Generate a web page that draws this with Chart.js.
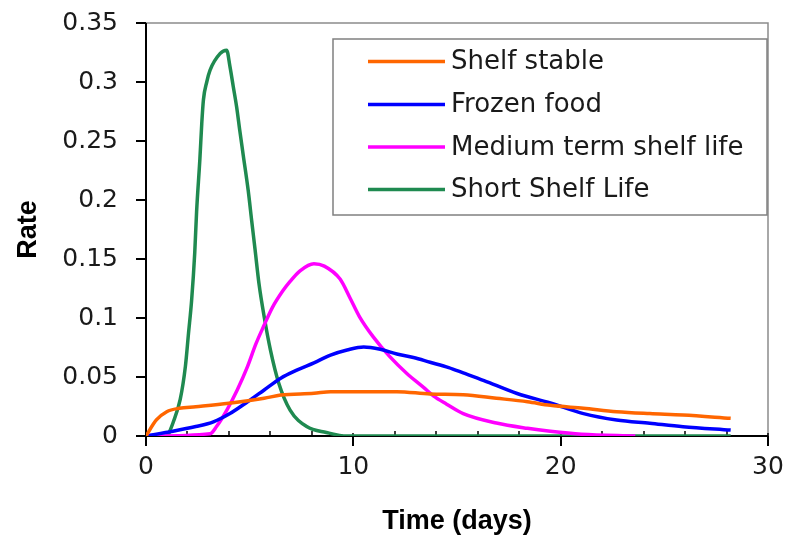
<!DOCTYPE html>
<html>
<head>
<meta charset="utf-8">
<script src="https://cdn.jsdelivr.net/npm/chart.js@4/dist/chart.umd.min.js"></script>
<style>
html,body{margin:0;padding:0;background:#fff;}
#wrap{width:790px;height:539px;position:relative;}
</style>
</head>
<body>
<div id="wrap"><canvas id="c" width="790" height="539"></canvas></div>
<script>
// ---- data ----
const seriesNames = ["Shelf stable", "Frozen food", "Medium term shelf life", "Short Shelf Life"];
const seriesColors = ["#FF6600", "#0000FF", "#FF00FF", "#1F8A50"];

const shelfStableDays = [0, 0.5, 1.0, 1.6, 2.4, 4.0, 5.7, 6.5, 8.1, 8.9, 12.1, 13.7, 15.3, 16.9, 18.4, 19.5, 21.1, 22.7, 24.3, 25.9, 28.2];
const shelfStableRate = [0, 0.0136, 0.0206, 0.0235, 0.0248, 0.0277, 0.032, 0.0347, 0.0362, 0.0376, 0.0376, 0.0356, 0.035, 0.032, 0.029, 0.026, 0.0235, 0.0206, 0.019, 0.0178, 0.015];

const frozenDays = [0, 1.3, 2.4, 3.25, 4.05, 4.9, 5.7, 6.5, 7.3, 8.1, 8.9, 9.7, 10.5, 11.3, 12.1, 12.9, 13.7, 14.6, 15.3, 16.3, 17.9, 19.5, 21.1, 22.7, 24.3, 25.9, 28.2];
const frozenRate = [0, 0.004, 0.008, 0.012, 0.019, 0.029, 0.039, 0.049, 0.056, 0.062, 0.0686, 0.0729, 0.0755, 0.0735, 0.0695, 0.0665, 0.0625, 0.058, 0.0535, 0.047, 0.036, 0.028, 0.019, 0.0136, 0.0108, 0.0079, 0.005];

const mediumDays = [0, 3.1, 3.4, 3.9, 4.4, 4.9, 5.3, 5.7, 6.1, 6.6, 6.95, 7.43, 8.1, 8.6, 9.36, 9.84, 10.3, 10.96, 11.77, 12.58, 13.4, 13.86, 14.5, 15.3, 16.9, 18.4, 19.5, 21.0, 23.6];
const mediumRate = [0, 0.002, 0.008, 0.022, 0.039, 0.059, 0.078, 0.094, 0.109, 0.123, 0.131, 0.14, 0.146, 0.144, 0.133, 0.117, 0.101, 0.084, 0.067, 0.053, 0.041, 0.034, 0.027, 0.019, 0.011, 0.0065, 0.004, 0.0015, 0];

const shortDays = [1.05, 1.3, 1.65, 1.9, 2.05, 2.2, 2.35, 2.44, 2.6, 2.69, 2.77, 2.93, 3.09, 3.57, 3.89, 4.05, 4.21, 4.37, 4.53, 4.69, 4.93, 5.1, 5.26, 5.45, 5.7, 6.0, 6.4, 6.95, 7.75, 8.7, 9.7, 28.2];
const shortRate = [0, 0.011, 0.031, 0.059, 0.087, 0.115, 0.155, 0.19, 0.235, 0.265, 0.285, 0.3, 0.31, 0.324, 0.327, 0.313, 0.296, 0.279, 0.258, 0.238, 0.208, 0.182, 0.158, 0.129, 0.101, 0.073, 0.045, 0.022, 0.008, 0.003, 0, 0];

const xTickValues = [0, 10, 20, 30];
const xMinorTickValues = [2, 4, 6, 8, 12, 14, 16, 18, 22, 24, 26, 28];
const yTickValues = [0, 0.05, 0.1, 0.15, 0.2, 0.25, 0.3, 0.35];
const yTickLabels = ["0", "0.05", "0.1", "0.15", "0.2", "0.25", "0.3", "0.35"];
const xTitle = "Time (days)";
const yTitle = "Rate";

// ---- build ----
function pts(xs, ys) { return xs.map((x, i) => ({x: x, y: ys[i]})); }
const allDays = [shelfStableDays, frozenDays, mediumDays, shortDays];
const allRates = [shelfStableRate, frozenRate, mediumRate, shortRate];
const datasets = seriesNames.map((n, i) => ({
  label: n,
  data: pts(allDays[i], allRates[i]),
  borderColor: seriesColors[i],
  backgroundColor: seriesColors[i],
  borderWidth: 3.5,
  pointRadius: 0,
  showLine: true,
  cubicInterpolationMode: 'monotone',
  fill: false
}));

const tickFont = {family: "'DejaVu Sans', sans-serif", size: 25};
const titleFont = {family: "'Liberation Sans', Arial, sans-serif", size: 27, weight: 'bold'};

const framePlugin = {
  id: 'frame',
  beforeDatasetsDraw(chart) {
    const {ctx, chartArea: a, scales} = chart;
    ctx.save();
    ctx.strokeStyle = '#8c8c8c';
    ctx.lineWidth = 1.5;
    ctx.beginPath();
    ctx.moveTo(a.left, a.top); ctx.lineTo(a.right, a.top); ctx.lineTo(a.right, a.bottom);
    ctx.stroke();
    ctx.strokeStyle = '#000';
    ctx.lineWidth = 2;
    ctx.beginPath();
    ctx.moveTo(a.left, a.top); ctx.lineTo(a.left, a.bottom); ctx.lineTo(a.right, a.bottom);
    ctx.stroke();
    ctx.lineWidth = 1.5;
    ctx.beginPath();
    xMinorTickValues.forEach(v => {
      const px = Math.round(scales.x.getPixelForValue(v));
      ctx.moveTo(px, a.bottom); ctx.lineTo(px, a.bottom - 5);
    });
    xTickValues.forEach(v => {
      const px = Math.round(scales.x.getPixelForValue(v));
      ctx.moveTo(px, a.bottom - 3); ctx.lineTo(px, a.bottom);
    });
    ctx.stroke();
    ctx.restore();
  },
  afterDraw(chart) {
    const {ctx} = chart;
    const L = 333, T = 39, R = 767, B = 215;
    ctx.save();
    ctx.fillStyle = '#fff';
    ctx.fillRect(L, T, R - L, B - T);
    ctx.strokeStyle = '#808080';
    ctx.lineWidth = 1.5;
    ctx.strokeRect(L, T, R - L, B - T);
    const rows = [61.5, 104.5, 147, 189.5];
    ctx.font = "26px 'DejaVu Sans', sans-serif";
    ctx.textBaseline = 'middle';
    ctx.textAlign = 'left';
    chart.data.datasets.forEach((ds, i) => {
      ctx.strokeStyle = ds.borderColor;
      ctx.lineWidth = 3.5;
      ctx.beginPath();
      ctx.moveTo(368, rows[i]); ctx.lineTo(445, rows[i]);
      ctx.stroke();
      ctx.fillStyle = '#1a1a1a';
      ctx.fillText(ds.label, 451, rows[i] + 1);
    });
    ctx.restore();
  }
};

new Chart(document.getElementById('c'), {
  type: 'scatter',
  data: {datasets: datasets},
  options: {
    responsive: false,
    animation: false,
    events: [],
    layout: {padding: {left: 0, top: 23, right: 22, bottom: 0}},
    plugins: {legend: {display: false}, tooltip: {enabled: false}},
    scales: {
      x: {
        type: 'linear', min: 0, max: 30,
        afterBuildTicks: s => { s.ticks = xTickValues.map(v => ({value: v})); },
        afterFit: s => { s.height = 103; s.paddingLeft = 0; s.paddingRight = 0; },
        border: {display: false},
        grid: {display: true, drawOnChartArea: false, drawTicks: true, tickLength: 10, tickColor: '#000', lineWidth: 2},
        ticks: {font: tickFont, color: '#1a1a1a', padding: 6, maxRotation: 0, autoSkip: false,
                callback: v => String(v)},
        title: {display: true, text: xTitle, font: titleFont, color: '#000', padding: {top: 0, bottom: 1}}
      },
      y: {
        type: 'linear', min: 0, max: 0.35,
        afterBuildTicks: s => { s.ticks = yTickValues.map(v => ({value: v})); },
        afterFit: s => { s.width = 146; s.paddingTop = 0; s.paddingBottom = 0; },
        border: {display: false},
        grid: {display: true, drawOnChartArea: false, drawTicks: true, tickLength: 10, tickColor: '#000', lineWidth: 2},
        ticks: {font: tickFont, color: '#1a1a1a', padding: 18, autoSkip: false,
                callback: (v) => { const i = yTickValues.findIndex(t => Math.abs(t - v) < 1e-9); return i >= 0 ? yTickLabels[i] : ''; }},
        title: {display: true, text: yTitle, font: titleFont, color: '#000', padding: {top: 12, bottom: 0}}
      }
    }
  },
  plugins: [framePlugin]
});
</script>
</body>
</html>
